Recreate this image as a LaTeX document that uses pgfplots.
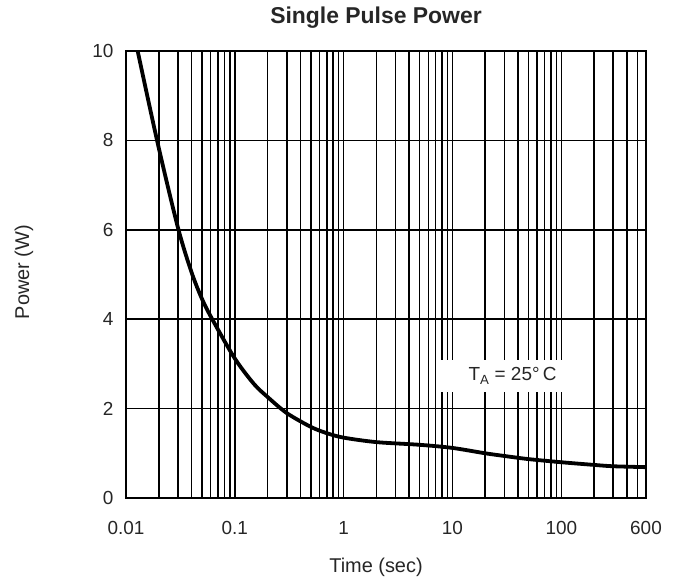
\documentclass[border=0pt]{standalone}
\usepackage{fontspec}
\setmainfont{Liberation Sans}
\usepackage{pgfplots}
\pgfplotsset{compat=1.18}
\begin{document}
\begin{tikzpicture}[x=1bp,y=1bp]
\useasboundingbox (-126,-84) rectangle (555,498);
\begin{semilogxaxis}[
    at={(0,0)}, anchor=south west,
    scale only axis,
    width=520bp, height=447bp,
    xmin=0.01, xmax=600, ymin=0, ymax=10,
    xtick={0.01,0.1,1,10,100,600},
    xticklabels={0.01,0.1,1,10,100,600},
    minor xtick={0.02,0.03,0.04,0.05,0.06,0.07,0.08,0.09,
                 0.2,0.3,0.4,0.5,0.6,0.7,0.8,0.9,
                 2,3,4,5,6,7,8,9,
                 20,30,40,50,60,70,80,90,
                 200,300,400,500},
    ytick={0,2,4,6,8,10},
    /pgf/number format/assume math mode=true,
    grid=both,
    major grid style={black, line width=1.5bp},
    minor grid style={black, line width=1.5bp},
    axis line style={black, line width=1.6bp},
    tick style={draw=none},
    tick label style={font=\fontsize{19}{21}\selectfont, text=black!85},
    xticklabel style={yshift=-20bp},
    yticklabel style={xshift=-9bp},
]
\addplot[black, line width=3.8bp, smooth] coordinates {
    (0.0128,10) (0.0195,7.95) (0.03,6.05) (0.04,5.05) (0.05,4.45)
    (0.062,4) (0.1,3.12) (0.15,2.55) (0.2,2.26) (0.3,1.9) (0.5,1.59)
    (0.7,1.45) (1,1.35) (2,1.25) (5,1.19) (10,1.12) (20,1.0)
    (30,0.94) (50,0.87) (100,0.8) (200,0.74) (300,0.71) (600,0.69)
};
\fill[white] (axis cs:7.6,2.37) rectangle (axis cs:109,3.09);
\node[font=\fontsize{19}{21}\selectfont, text=black!85]
    at (axis cs:35.6,2.73) {T\textsubscript{A} = 25°\,C};
\end{semilogxaxis}
\node[font=\bfseries\fontsize{23}{26}\selectfont, text=black!85] at (250,480) {Single Pulse Power};
\node[rotate=90, font=\fontsize{20}{23}\selectfont, text=black!85] at (-102,226) {Power (W)};
\node[font=\fontsize{20}{23}\selectfont, text=black!85] at (250,-69) {Time (sec)};
\end{tikzpicture}
\end{document}
